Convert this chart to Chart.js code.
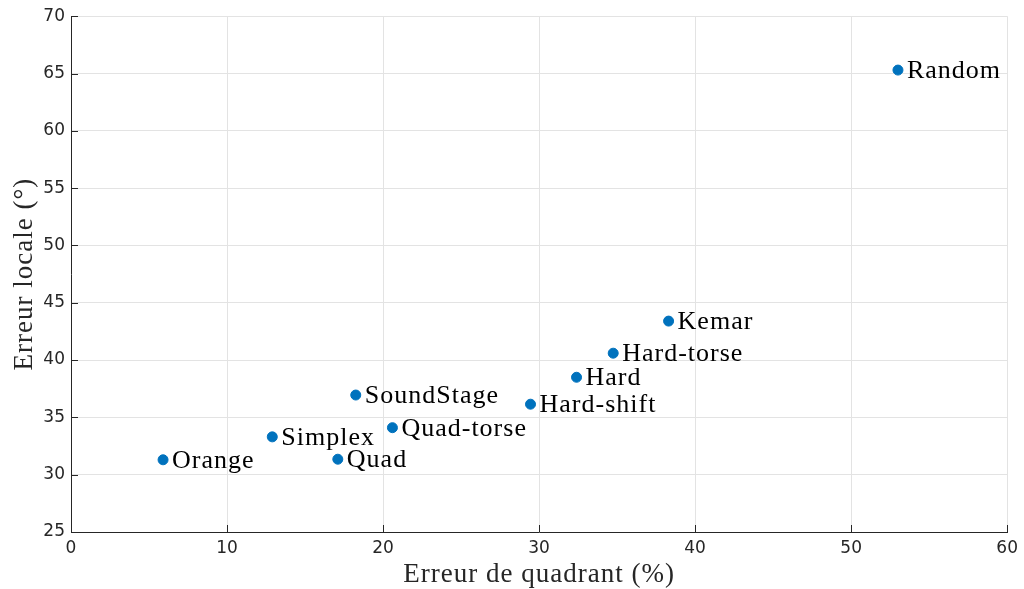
<!DOCTYPE html>
<html>
<head>
<meta charset="utf-8">
<script src="https://cdn.jsdelivr.net/npm/chart.js@4"></script>
<style>
  html, body { margin: 0; padding: 0; background: #fff; }
  #wrap { width: 1024px; height: 589px; }
</style>
</head>
<body>
<div id="wrap"><canvas id="c" width="1024" height="589"></canvas></div>
<script>
// Method names and their scores
const methods = ["Orange", "Simplex", "Quad", "SoundStage", "Quad-torse", "Hard-shift", "Hard", "Hard-torse", "Kemar", "Random"];
const quadrantError = [5.9, 12.9, 17.1, 18.25, 20.6, 29.45, 32.4, 34.75, 38.3, 53.0];   // %
const localError = [31.3, 33.3, 31.35, 36.95, 34.1, 36.15, 38.5, 40.6, 43.4, 65.3];      // degrees

const xTicks = [0, 10, 20, 30, 40, 50, 60];
const yTicks = [25, 30, 35, 40, 45, 50, 55, 60, 65, 70];

const xTitle = "Erreur de quadrant (%)";
const yTitle = "Erreur locale (°)";

const points = methods.map((m, i) => ({ x: quadrantError[i], y: localError[i], name: m }));

const axisColor = "#262626";
const gridColor = "#e3e3e3";
const serif = "'Liberation Serif', 'DejaVu Serif', serif";

// Text labels next to each marker, inward tick marks and the axis titles
const annotate = {
  id: "annotate",
  afterDatasetsDraw(chart) {
    const { ctx, scales: { x, y }, chartArea } = chart;
    ctx.save();
    ctx.fillStyle = "#000";
    ctx.font = "26px " + serif;
    ctx.letterSpacing = "1px";
    ctx.textAlign = "left";
    ctx.textBaseline = "middle";
    points.forEach(p => {
      ctx.fillText(p.name, x.getPixelForValue(p.x) + 9, y.getPixelForValue(p.y) + 1);
    });

    ctx.strokeStyle = axisColor;
    ctx.lineWidth = 1;
    ctx.beginPath();
    xTicks.forEach(v => {
      const px = Math.round(x.getPixelForValue(v)) + 0.5;
      ctx.moveTo(px, chartArea.bottom);
      ctx.lineTo(px, chartArea.bottom - 7);
    });
    yTicks.forEach(v => {
      const py = Math.round(y.getPixelForValue(v)) + 0.5;
      ctx.moveTo(chartArea.left, py);
      ctx.lineTo(chartArea.left + 7, py);
    });
    ctx.stroke();

    ctx.fillStyle = axisColor;
    ctx.font = "27px " + serif;
    ctx.letterSpacing = "1px";
    ctx.textAlign = "center";
    ctx.fillText(xTitle, (chartArea.left + chartArea.right) / 2, 575);
    ctx.translate(25, (chartArea.top + chartArea.bottom) / 2);
    ctx.rotate(-Math.PI / 2);
    ctx.fillText(yTitle, 0, 0);
    ctx.restore();
  }
};

new Chart(document.getElementById("c"), {
  type: "scatter",
  data: {
    datasets: [{
      data: points,
      backgroundColor: "#0072BD",
      borderColor: "#0072BD",
      pointRadius: 5,
      pointHoverRadius: 5
    }]
  },
  options: {
    responsive: false,
    animation: false,
    plugins: { legend: { display: false }, tooltip: { enabled: false } },
    layout: { padding: { left: 0, right: 16, top: 16, bottom: 0 } },
    scales: {
      x: {
        type: "linear",
        min: 0, max: 60,
        afterBuildTicks(s) { s.ticks = xTicks.map(v => ({ value: v })); },
        afterFit(s) { s.height = 57; },
        grid: { color: gridColor, drawTicks: false },
        border: { color: axisColor, width: 1 },
        ticks: { color: axisColor, font: { family: "'DejaVu Sans', sans-serif", size: 17 }, padding: 6, maxRotation: 0 }
      },
      y: {
        type: "linear",
        min: 25, max: 70,
        afterBuildTicks(s) { s.ticks = yTicks.map(v => ({ value: v })); },
        afterFit(s) { s.width = 71; },
        grid: { color: gridColor, drawTicks: false },
        border: { color: axisColor, width: 1 },
        ticks: { color: axisColor, font: { family: "'DejaVu Sans', sans-serif", size: 17 }, padding: 6 }
      }
    }
  },
  plugins: [annotate]
});
</script>
</body>
</html>
